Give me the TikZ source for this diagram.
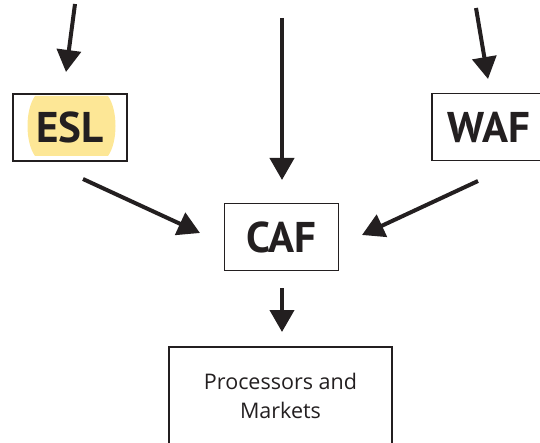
\documentclass[tikz,border=0pt]{standalone}
\usepackage{fontspec}
\setmainfont{Open Sans}
\newfontfamily\labelfont{PT Sans}
\usetikzlibrary{arrows.meta}
\definecolor{ink}{HTML}{231F20}
\definecolor{hilite}{HTML}{FDE796}
\tikzset{
  box/.style={draw=ink, line width=1.8pt, rectangle, inner sep=0pt, text=ink},
  bigbox/.style={box, minimum width=114pt, minimum height=67pt, font=\labelfont\fontsize{43}{44}\selectfont\bfseries},
  flow/.style={draw=ink, line width=4pt, -{Triangle[width=24pt,length=22pt]}},
}
\begin{document}
\begin{tikzpicture}[x=1pt, y=-1pt]
\useasboundingbox (0,0) rectangle (540,443);

% highlight behind ESL
\fill[hilite] (35,96) -- (108,96) .. controls (118,110) and (118,142) .. (108,156)
  -- (35,156) .. controls (25,142) and (25,110) .. (35,96);

\node[bigbox] (esl) at (70,127.5) {ESL};
\node[bigbox] (waf) at (489,127) {WAF};
\node[bigbox] (caf) at (281.5,237) {CAF};
\node[box, minimum width=223pt, minimum height=98pt, align=center,
      font=\fontsize{21.5}{29}\selectfont] (proc) at (280.5,396) {Processors and\\Markets};

% arrow ends
\coordinate (inL) at (75,4);
\coordinate (inLtip) at (66,72);
\coordinate (inM) at (282,18);
\coordinate (inMtip) at (282,180);
\coordinate (inR) at (476,8);
\coordinate (inRtip) at (488,79);
\coordinate (eslout) at (83,179);
\coordinate (esltip) at (200,233);
\coordinate (wafout) at (478,181);
\coordinate (waftip) at (362,235);
\coordinate (cafout) at (282,288);
\coordinate (caftip) at (282,332);

\draw[flow] (inL) -- (inLtip);
\draw[flow] (inM) -- (inMtip);
\draw[flow] (inR) -- (inRtip);
\draw[flow] (eslout) -- (esltip);
\draw[flow] (wafout) -- (waftip);
\draw[flow] (cafout) -- (caftip);
\end{tikzpicture}
\end{document}
